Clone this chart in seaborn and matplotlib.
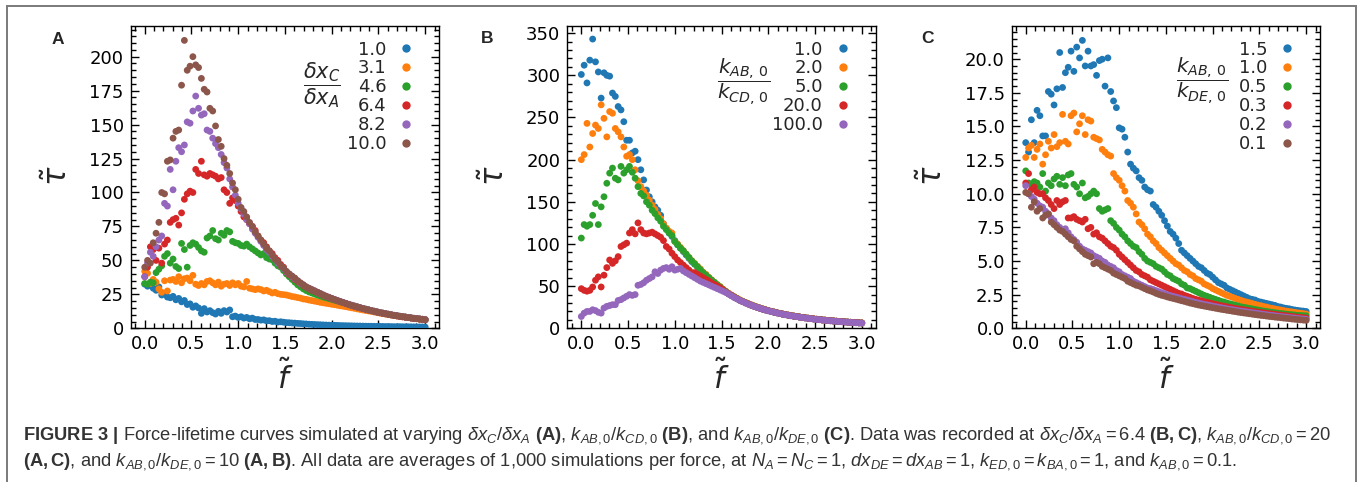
import numpy as np
import pandas as pd
import matplotlib
matplotlib.use("Agg")
import matplotlib.pyplot as plt
from matplotlib import font_manager
from matplotlib.lines import Line2D
from matplotlib.patches import Rectangle
from matplotlib.ticker import MultipleLocator, AutoMinorLocator, FormatStrFormatter
import seaborn as sns

# Dimensionless force grid shared by every simulated curve
force = np.linspace(0.0, 3.0, 100)

# ---- Panel A: varying dx_C / dx_A -------------------------------------------
a_labels = ["1.0", "3.1", "4.6", "6.4", "8.2", "10.0"]
a_10 = [32.5, 31.0, 33.0, 29.5, 28.0, 30.5, 24.5, 25.5, 23.0, 22.5,
        23.5, 21.0, 22.0, 19.5, 20.5, 17.5, 18.0, 15.5, 16.5, 15.0,
        11.0, 14.5, 12.0, 13.0, 11.5, 10.5, 12.5, 11.0, 13.0, 12.0,
        13.5, 8.5, 9.0, 8.0, 8.5, 7.5, 8.0, 7.0, 7.5, 6.5,
        6.5, 6.0, 6.2, 5.5, 5.6, 5.0, 5.2, 4.6, 4.8, 4.5,
        4.2, 4.1, 3.9, 3.8, 3.6, 3.5, 3.3, 3.2, 3.0, 2.9,
        2.8, 2.7, 2.6, 2.5, 2.4, 2.3, 2.25, 2.2, 2.1, 2.0,
        1.95, 1.9, 1.85, 1.8, 1.75, 1.7, 1.65, 1.6, 1.55, 1.5,
        1.5, 1.45, 1.4, 1.4, 1.35, 1.3, 1.3, 1.25, 1.2, 1.2,
        1.2, 1.15, 1.1, 1.1, 1.1, 1.05, 1.0, 1.0, 1.0, 0.95]
a_31 = [42.0, 40.5, 33.0, 36.0, 34.0, 29.0, 26.5, 35.0, 27.5, 35.5,
        36.0, 34.5, 38.0, 33.5, 36.5, 37.0, 35.0, 39.0, 32.5, 31.5,
        33.0, 32.0, 34.5, 35.0, 33.5, 32.0, 34.0, 31.0, 32.5, 33.0,
        31.5, 33.5, 32.0, 33.0, 31.0, 30.5, 34.5, 29.5, 29.0, 28.5,
        29.0, 28.5, 27.5, 28.0, 27.0, 26.0, 26.5, 25.5, 25.0, 24.8,
        24.5, 24.0, 23.4, 23.1, 22.6, 22.2, 21.6, 21.3, 20.8, 20.4,
        20.0, 19.6, 19.1, 18.8, 18.4, 18.1, 17.7, 17.4, 17.0, 16.6,
        16.3, 15.9, 15.5, 15.1, 14.7, 14.3, 13.9, 13.5, 13.1, 12.8,
        12.4, 12.0, 11.6, 11.2, 10.8, 10.5, 10.1, 9.8, 9.4, 9.1,
        8.8, 8.5, 8.2, 7.9, 7.6, 7.3, 7.1, 6.8, 6.6, 6.3]
a_46 = [33.0, 32.5, 34.0, 33.5, 41.0, 43.5, 46.0, 53.0, 55.0, 48.0,
        51.0, 45.5, 44.0, 62.5, 58.0, 45.0, 61.0, 63.0, 62.0, 59.5,
        57.0, 56.0, 66.5, 68.0, 72.0, 66.0, 65.0, 70.0, 68.5, 72.0,
        71.0, 64.0, 63.0, 62.5, 61.0, 60.5, 62.0, 60.0, 58.5, 57.0,
        55.5, 54.0, 55.0, 52.0, 51.0, 50.5, 48.0, 46.0, 45.0, 42.5,
        40.0, 38.0, 36.0, 34.0, 32.0, 30.5, 29.0, 27.8, 26.8, 26.0,
        25.2, 24.5, 23.8, 23.1, 22.5, 21.9, 21.3, 20.7, 20.1, 19.5,
        18.9, 18.3, 17.6, 17.0, 16.4, 15.8, 15.2, 14.7, 14.1, 13.6,
        13.1, 12.6, 12.1, 11.6, 11.2, 10.8, 10.4, 10.0, 9.6, 9.3,
        8.9, 8.6, 8.3, 8.0, 7.7, 7.4, 7.1, 6.9, 6.6, 6.4]
a_64 = [38.0, 45.0, 60.0, 58.0, 50.0, 59.0, 48.0, 62.0, 65.0, 78.0,
        80.0, 81.0, 76.0, 85.0, 95.0, 99.0, 101.0, 100.0, 117.0, 114.0,
        123.0, 113.0, 112.0, 114.0, 113.0, 112.0, 110.0, 111.0, 102.0, 100.0,
        92.0, 96.0, 94.0, 90.0, 86.0, 82.0, 80.0, 77.0, 75.0, 72.0,
        68.0, 65.0, 63.0, 60.0, 57.0, 55.0, 52.0, 50.0, 47.0, 45.0,
        41.5, 39.5, 38.0, 36.0, 34.5, 33.0, 31.5, 30.2, 29.0, 28.0,
        27.3, 26.4, 25.4, 24.4, 23.6, 22.7, 21.9, 21.1, 20.4, 19.6,
        18.9, 18.3, 17.6, 16.9, 16.2, 15.7, 15.1, 14.5, 14.0, 13.5,
        13.0, 12.5, 12.0, 11.5, 11.1, 10.7, 10.3, 9.9, 9.5, 9.2,
        8.8, 8.5, 8.2, 7.9, 7.6, 7.3, 7.1, 6.8, 6.6, 6.3]
a_82 = [38.0, 48.0, 56.0, 53.0, 60.0, 65.0, 68.0, 92.0, 90.0, 117.0,
        102.0, 123.0, 133.0, 130.0, 135.0, 152.0, 151.0, 160.0, 171.0, 162.0,
        157.0, 158.0, 146.0, 145.0, 140.0, 136.0, 133.0, 128.0, 122.0, 118.0,
        110.0, 104.0, 98.0, 92.0, 88.0, 84.0, 80.0, 77.0, 73.0, 70.0,
        67.0, 64.0, 61.0, 58.0, 56.0, 53.0, 51.0, 48.0, 46.0, 44.0,
        41.5, 40.0, 38.0, 36.5, 35.0, 33.0, 32.0, 30.5, 29.5, 28.5,
        27.6, 26.6, 25.6, 24.6, 23.7, 22.9, 22.1, 21.3, 20.5, 19.8,
        19.1, 18.4, 17.7, 17.0, 16.4, 15.8, 15.2, 14.6, 14.1, 13.6,
        13.1, 12.6, 12.1, 11.6, 11.2, 10.8, 10.4, 10.0, 9.6, 9.3,
        8.9, 8.6, 8.3, 8.0, 7.7, 7.4, 7.2, 6.9, 6.7, 6.4]
a_100 = [45.0, 50.0, 48.0, 63.0, 70.0, 78.0, 100.0, 99.0, 123.0, 124.0,
         140.0, 145.0, 146.0, 179.0, 212.0, 190.0, 193.0, 200.0, 194.0, 192.0,
         184.0, 176.0, 174.0, 162.0, 160.0, 149.0, 139.0, 134.0, 125.0, 120.0,
         114.0, 107.0, 102.0, 95.0, 89.0, 86.0, 82.0, 78.0, 75.0, 71.0,
         68.0, 65.0, 62.0, 59.0, 57.0, 54.0, 51.0, 49.0, 46.0, 44.5,
         42.0, 40.0, 38.5, 37.0, 35.0, 33.5, 32.0, 30.5, 29.5, 28.5,
         27.5, 26.5, 25.5, 24.5, 23.5, 22.8, 22.0, 21.2, 20.4, 19.7,
         19.0, 18.3, 17.6, 16.9, 16.3, 15.7, 15.1, 14.5, 14.0, 13.5,
         13.0, 12.5, 12.0, 11.5, 11.1, 10.7, 10.3, 9.9, 9.5, 9.2,
         8.8, 8.5, 8.2, 7.9, 7.6, 7.3, 7.1, 6.8, 6.6, 6.3]

# ---- Panel B: varying k_AB,0 / k_CD,0 ---------------------------------------
b_labels = ["1.0", "2.0", "5.0", "20.0", "100.0"]
b_1 = [301, 312, 291, 318, 343, 316, 304, 273, 303, 300,
       299, 279, 275, 263, 259, 245, 223, 223, 208, 210,
       200, 188, 176, 164, 156, 150, 144, 140, 134, 124,
       118, 113, 109, 104, 99, 95, 91, 87, 83, 79,
       76, 73, 69.5, 66, 63, 60, 57, 54, 51.5, 49,
       46, 43.5, 41, 39, 37, 35, 33.3, 31.7, 30.2, 28.8,
       27.5, 26.2, 25.0, 23.9, 22.8, 21.8, 20.9, 20.0, 19.2, 18.4,
       17.6, 16.9, 16.2, 15.6, 15.0, 14.4, 13.9, 13.4, 12.9, 12.4,
       12.0, 11.5, 11.1, 10.7, 10.3, 10.0, 9.6, 9.3, 9.0, 8.7,
       8.4, 8.1, 7.9, 7.6, 7.4, 7.1, 6.9, 6.7, 6.5, 6.3]
b_2 = [200, 206, 243, 215, 231, 241, 237, 265, 249, 227,
       257, 255, 237, 233, 227, 215, 204, 206, 200, 188,
       175, 168, 163, 158, 152, 146, 141, 135, 130, 124,
       119, 115, 113, 103, 100, 96, 92, 88, 84, 80,
       77, 73.5, 70.5, 66.5, 64, 60.5, 57.5, 54.5, 52, 49.5,
       46.5, 44, 41.5, 39.5, 37.5, 35.5, 33.7, 32, 30.5, 29.1,
       27.8, 26.5, 25.3, 24.2, 23.1, 22.1, 21.1, 20.2, 19.4, 18.6,
       17.8, 17.1, 16.4, 15.8, 15.2, 14.6, 14.1, 13.5, 13.0, 12.6,
       12.1, 11.7, 11.3, 10.8, 10.5, 10.1, 9.8, 9.4, 9.1, 8.8,
       8.5, 8.2, 8.0, 7.7, 7.5, 7.2, 7.0, 6.8, 6.6, 6.4]
b_5 = [107, 123, 121, 123, 134, 148, 123, 144, 156, 172,
       184, 190, 178, 176, 192, 184, 188, 192, 185, 178,
       168, 160, 157, 150, 146, 140, 136, 131, 127, 121,
       117, 113, 110, 103, 99, 95, 92, 88, 84, 80,
       76.5, 73, 69.5, 66, 63, 60, 57, 54.5, 51.5, 49,
       46, 43.5, 41, 39, 37, 35.2, 33.3, 31.8, 30.2, 28.9,
       27.5, 26.3, 25.0, 24.0, 22.8, 21.9, 20.9, 20.1, 19.2, 18.5,
       17.6, 16.9, 16.3, 15.6, 15.0, 14.5, 13.9, 13.4, 12.9, 12.5,
       12.0, 11.6, 11.1, 10.7, 10.4, 10.0, 9.7, 9.3, 9.0, 8.7,
       8.4, 8.2, 7.9, 7.7, 7.4, 7.2, 6.9, 6.7, 6.5, 6.3]
b_20 = [47, 45, 44, 45, 49, 57, 61, 49, 63, 72,
        81, 77, 80, 85, 97, 99, 101, 113, 117, 112,
        125, 117, 113, 112, 113, 114, 112, 110, 108, 104,
        97, 94, 89, 85, 81, 78, 75, 72, 69, 66,
        66, 64, 62, 60, 58, 56, 54, 52, 50, 48,
        45.5, 43, 41, 39, 37, 35, 33.3, 31.6, 30.2, 28.8,
        27.4, 26.2, 25.0, 23.8, 22.8, 21.8, 20.9, 20.0, 19.2, 18.4,
        17.6, 16.9, 16.2, 15.6, 15.0, 14.4, 13.9, 13.4, 12.9, 12.4,
        11.9, 11.5, 11.1, 10.7, 10.3, 9.9, 9.6, 9.3, 9.0, 8.7,
        8.4, 8.1, 7.9, 7.6, 7.4, 7.1, 6.9, 6.7, 6.5, 6.3]
b_100 = [14, 18, 20, 20, 22, 21, 19, 18, 24, 26,
         27, 28, 28, 33, 34, 36, 38, 40, 39, 40,
         51, 52, 54, 57, 59, 61, 67, 65, 69, 71,
         72, 70, 73, 69, 70, 71, 68, 66, 64, 62,
         60, 58, 56, 54.5, 53, 51.5, 50, 48.5, 47, 45.5,
         44, 42.5, 40.5, 38.5, 36.5, 34.8, 33.0, 31.5, 30.0, 28.6,
         27.3, 26.0, 24.9, 23.8, 22.7, 21.7, 20.8, 19.9, 19.1, 18.3,
         17.5, 16.8, 16.1, 15.5, 14.9, 14.3, 13.8, 13.3, 12.8, 12.3,
         11.9, 11.4, 11.0, 10.6, 10.2, 9.9, 9.5, 9.2, 8.9, 8.6,
         8.3, 8.0, 7.8, 7.5, 7.3, 7.0, 6.8, 6.6, 6.4, 6.2]

# ---- Panel C: varying k_AB,0 / k_DE,0 ---------------------------------------
c_labels = ["1.5", "1.0", "0.5", "0.3", "0.2", "0.1"]
c_15 = [13.8, 13.1, 15.5, 13.8, 16.2, 15.8, 14.3, 14.3, 17.6, 17.4,
        16.6, 17.8, 20.5, 17.9, 19.0, 19.4, 20.6, 19.1, 20.9, 20.1,
        21.4, 19.5, 20.6, 19.5, 19.6, 18.8, 19.9, 20.0, 18.0, 20.1,
        17.6, 16.9, 16.4, 14.9, 14.8, 14.2, 13.1, 12.2, 11.9, 11.7,
        11.2, 11.0, 10.5, 10.3, 10.2, 9.2, 9.0, 8.7, 8.4, 8.0,
        7.6, 7.2, 7.0, 6.7, 6.3, 5.8, 5.6, 5.4, 5.2, 5.0,
        4.8, 4.6, 4.5, 4.3, 4.1, 4.0, 3.8, 3.6, 3.4, 3.3,
        3.2, 3.0, 2.9, 2.8, 2.7, 2.6, 2.5, 2.4, 2.3, 2.2,
        2.15, 2.1, 2.0, 1.95, 1.9, 1.85, 1.8, 1.75, 1.7, 1.62,
        1.58, 1.52, 1.48, 1.45, 1.4, 1.36, 1.33, 1.3, 1.28, 1.25]
c_10 = [12.7, 13.4, 13.6, 12.7, 13.3, 13.7, 12.2, 12.9, 13.9, 13.4,
        14.4, 13.5, 13.8, 15.9, 13.9, 13.7, 15.8, 16.0, 14.6, 15.2,
        15.8, 14.4, 15.5, 15.4, 14.2, 14.1, 14.0, 13.3, 13.1, 12.9,
        12.8, 11.5, 11.2, 11.0, 10.6, 10.2, 9.5, 9.3, 9.0, 8.5,
        7.9, 7.7, 7.4, 7.0, 6.8, 6.5, 6.3, 6.0, 5.8, 5.6,
        5.4, 5.2, 5.0, 4.8, 4.7, 4.5, 4.3, 4.2, 4.0, 3.9,
        3.7, 3.6, 3.5, 3.3, 3.2, 3.1, 2.95, 2.85, 2.75, 2.65,
        2.55, 2.45, 2.38, 2.3, 2.22, 2.15, 2.08, 2.0, 1.95, 1.9,
        1.84, 1.78, 1.72, 1.68, 1.62, 1.58, 1.52, 1.48, 1.44, 1.4,
        1.36, 1.32, 1.28, 1.25, 1.22, 1.18, 1.15, 1.12, 1.09, 1.06]
c_05 = [11.7, 10.8, 10.7, 10.9, 10.8, 10.5, 11.5, 10.2, 10.8, 10.6,
        11.1, 11.3, 10.7, 11.2, 10.6, 11.4, 11.5, 10.7, 10.5, 10.0,
        10.8, 9.7, 9.8, 10.0, 10.2, 10.0, 8.9, 8.7, 8.8, 8.9,
        8.0, 7.8, 7.5, 7.3, 7.0, 6.8, 6.5, 6.3, 6.1, 6.0,
        5.7, 5.5, 5.2, 5.0, 4.9, 4.8, 4.6, 4.5, 4.4, 4.2,
        4.0, 3.9, 3.7, 3.6, 3.5, 3.3, 3.2, 3.0, 2.95, 2.85,
        2.75, 2.65, 2.55, 2.45, 2.38, 2.3, 2.22, 2.15, 2.08, 2.0,
        1.95, 1.88, 1.82, 1.77, 1.72, 1.66, 1.6, 1.56, 1.52, 1.48,
        1.44, 1.4, 1.36, 1.32, 1.28, 1.25, 1.22, 1.19, 1.16, 1.13,
        1.1, 1.08, 1.05, 1.03, 1.01, 0.99, 0.97, 0.95, 0.94, 0.93]
c_03 = [10.8, 11.5, 10.3, 10.5, 10.1, 10.0, 10.0, 9.7, 9.5, 9.2,
        8.9, 9.5, 9.2, 9.4, 9.5, 8.2, 8.2, 8.3, 8.1, 8.0,
        7.9, 8.1, 7.4, 7.5, 7.0, 7.1, 6.8, 6.7, 6.5, 6.3,
        6.1, 6.0, 5.8, 5.5, 5.3, 5.1, 4.9, 4.7, 4.5, 4.3,
        4.2, 4.0, 3.9, 3.8, 3.6, 3.5, 3.4, 3.3, 3.2, 3.1,
        3.0, 2.9, 2.8, 2.7, 2.6, 2.55, 2.45, 2.38, 2.3, 2.22,
        2.15, 2.1, 2.04, 1.98, 1.93, 1.88, 1.83, 1.78, 1.73, 1.68,
        1.64, 1.6, 1.56, 1.52, 1.48, 1.44, 1.41, 1.37, 1.34, 1.3,
        1.27, 1.24, 1.21, 1.18, 1.15, 1.12, 1.09, 1.06, 1.04, 1.01,
        0.98, 0.96, 0.93, 0.91, 0.88, 0.86, 0.83, 0.81, 0.79, 0.77]
c_02 = [10.6, 10.0, 9.8, 9.6, 9.3, 9.1, 9.0, 8.7, 8.5, 8.2,
        8.0, 7.7, 7.5, 7.3, 7.4, 7.1, 6.8, 6.6, 6.4, 6.1,
        5.9, 5.8, 5.7, 5.6, 5.4, 5.3, 5.2, 5.0, 4.9, 4.7,
        4.6, 4.5, 4.3, 4.2, 4.0, 3.9, 3.8, 3.7, 3.5, 3.4,
        3.3, 3.2, 3.1, 3.0, 2.95, 2.88, 2.8, 2.72, 2.65, 2.58,
        2.5, 2.44, 2.38, 2.32, 2.26, 2.2, 2.15, 2.1, 2.04, 1.98,
        1.93, 1.88, 1.83, 1.78, 1.74, 1.7, 1.65, 1.61, 1.57, 1.53,
        1.49, 1.45, 1.42, 1.38, 1.35, 1.31, 1.28, 1.25, 1.22, 1.19,
        1.16, 1.13, 1.1, 1.07, 1.04, 1.01, 0.98, 0.96, 0.93, 0.9,
        0.88, 0.85, 0.83, 0.8, 0.78, 0.76, 0.73, 0.71, 0.69, 0.67]
c_01 = [10.1, 10.0, 9.0, 9.4, 8.7, 8.9, 8.2, 8.4, 8.5, 7.9,
        7.7, 7.5, 7.3, 7.2, 7.0, 6.8, 6.6, 6.5, 6.1, 5.9,
        5.7, 5.5, 5.4, 5.3, 4.8, 4.9, 4.8, 4.6, 4.5, 4.4,
        4.3, 4.1, 4.0, 3.9, 3.8, 3.7, 3.5, 3.4, 3.3, 3.2,
        3.15, 3.05, 2.95, 2.85, 2.78, 2.7, 2.6, 2.52, 2.45, 2.4,
        2.33, 2.27, 2.22, 2.17, 2.11, 2.05, 2.0, 1.94, 1.88, 1.83,
        1.78, 1.73, 1.69, 1.65, 1.61, 1.57, 1.53, 1.49, 1.45, 1.41,
        1.38, 1.34, 1.31, 1.27, 1.24, 1.2, 1.17, 1.14, 1.11, 1.08,
        1.05, 1.02, 0.99, 0.96, 0.94, 0.91, 0.88, 0.86, 0.83, 0.81,
        0.79, 0.76, 0.74, 0.72, 0.69, 0.67, 0.65, 0.63, 0.61, 0.59]

# ---- styling -----------------------------------------------------------------
sns.set_style("ticks")
plt.rcParams["font.family"] = ["DejaVu Sans"]
plt.rcParams["mathtext.fontset"] = "dejavusans"


def font_available(name):
    try:
        font_manager.findfont(font_manager.FontProperties(family=name),
                              fallback_to_default=False)
        return True
    except ValueError:
        return False


CAPTION_FONT = ("Liberation Sans Narrow" if font_available("Liberation Sans Narrow")
                else "Liberation Sans")
plt.rcParams["mathtext.rm"] = CAPTION_FONT
plt.rcParams["mathtext.sf"] = CAPTION_FONT
plt.rcParams["mathtext.it"] = CAPTION_FONT + ":italic"
plt.rcParams["mathtext.bf"] = CAPTION_FONT + ":bold"

colors = sns.color_palette("tab10", 6)

W, H = 1360, 482
fig = plt.figure(figsize=(W / 100, H / 100), dpi=100)

AX_TOP, AX_BOTTOM = 26.0, 328.3

panels = [
    dict(letter="A", left=130.7, labels=a_labels,
         values=[a_10, a_31, a_46, a_64, a_82, a_100],
         frac=r"$\dfrac{\delta x_C}{\delta x_A}$", frac_xy=(0.62, 0.805), frac_size=15,
         ytop=222.6, ystep=25, yfmt="%d", ylabel_x=-0.236, letter_xy=(57.5, 39.5)),
    dict(letter="B", left=567.3, labels=b_labels,
         values=[b_1, b_2, b_5, b_20, b_100],
         frac=r"$\dfrac{k_{AB,\,0}}{k_{CD,\,0}}$", frac_xy=(0.573, 0.815), frac_size=14.5,
         ytop=358.5, ystep=50, yfmt="%d", ylabel_x=-0.234, letter_xy=(487, 38.5)),
    dict(letter="C", left=1011.7, labels=c_labels,
         values=[c_15, c_10, c_05, c_03, c_02, c_01],
         frac=r"$\dfrac{k_{AB,\,0}}{k_{DE,\,0}}$", frac_xy=(0.617, 0.818), frac_size=14.5,
         ytop=22.47, ystep=2.5, yfmt="%.1f", ylabel_x=-0.255, letter_xy=(927, 38.5)),
]

AX_W = 308.5
for p in panels:
    ax = fig.add_axes([p["left"] / W, (H - AX_BOTTOM) / H, AX_W / W,
                       (AX_BOTTOM - AX_TOP) / H])
    n = len(p["labels"])
    df = pd.DataFrame({
        "f": np.tile(force, n),
        "tau": np.concatenate([np.asarray(v, dtype=float) for v in p["values"]]),
        "ratio": np.repeat(p["labels"], len(force)),
    })
    pal = colors[:n]
    sns.scatterplot(data=df, x="f", y="tau", hue="ratio", hue_order=p["labels"],
                    palette=pal, s=24, linewidth=0, legend=False, ax=ax, zorder=3)

    ax.set_xlim(-0.15, 3.15)
    ax.set_ylim(0, p["ytop"])
    ax.xaxis.set_major_locator(MultipleLocator(0.5))
    ax.xaxis.set_major_formatter(FormatStrFormatter("%.1f"))
    ax.xaxis.set_minor_locator(AutoMinorLocator(5))
    ax.yaxis.set_major_locator(MultipleLocator(p["ystep"]))
    ax.yaxis.set_major_formatter(FormatStrFormatter(p["yfmt"]))
    ax.yaxis.set_minor_locator(AutoMinorLocator(5))
    ax.tick_params(which="both", direction="in", top=True, right=True,
                   width=1.0, color="black")
    ax.tick_params(which="major", length=6, labelsize=13, pad=5, labelcolor="black")
    ax.tick_params(which="minor", length=3.5)
    for sp in ax.spines.values():
        sp.set_linewidth(1.0)
        sp.set_color("black")

    ax.set_xlabel(r"$\tilde{f}$", fontsize=22, va="center")
    ax.xaxis.set_label_coords(0.5, -0.161)
    ax.set_ylabel(r"$\tilde{\tau}$", fontsize=22, va="center")
    ax.yaxis.set_label_coords(p["ylabel_x"], 0.504)

    handles = [Line2D([0], [0], marker="o", linestyle="", color=c,
                      markersize=6, markeredgewidth=0) for c in pal]
    ax.legend(handles, p["labels"], loc="upper right", bbox_to_anchor=(0.922, 0.952),
              markerfirst=False, frameon=False, fontsize=13, handlelength=1.0,
              handletextpad=0.6, labelspacing=0.05, borderpad=0, borderaxespad=0)
    ax.text(*p["frac_xy"], p["frac"], transform=ax.transAxes, ha="center",
            va="center", fontsize=p["frac_size"])

    fig.text(p["letter_xy"][0] / W, 1 - p["letter_xy"][1] / H, p["letter"],
             ha="center", va="center", fontsize=12.5, fontweight="bold",
             family=["Liberation Sans", "DejaVu Sans"])

# outer frame around figure and caption
fig.add_artist(Rectangle((7 / W, -0.05), (1356 - 7) / W, (1 - 6 / H) + 0.05,
                         transform=fig.transFigure, fill=False,
                         edgecolor="#7a7a7a", linewidth=1.4, clip_on=False))

line1 = (r"$\mathbf{FIGURE\ 3\ |}$ Force-lifetime curves simulated at varying "
         r"$\delta x_C/\delta x_A$ $\mathbf{(A)}$, $k_{AB,0}/k_{CD,0}$ $\mathbf{(B)}$, "
         r"and $k_{AB,0}/k_{DE,0}$ $\mathbf{(C)}$. Data was recorded at "
         r"$\delta x_C/\delta x_A = 6.4$ $\mathbf{(B,C)}$, $k_{AB,0}/k_{CD,0} = 20$")
line2 = (r"$\mathbf{(A,C)}$, and $k_{AB,0}/k_{DE,0} = 10$ $\mathbf{(A,B)}$. All data are "
         r"averages of 1,000 simulations per force, at $N_A = N_C = 1$, "
         r"$dx_{DE} = dx_{AB} = 1$, $k_{ED,0} = k_{BA,0} = 1$, and $k_{AB,0} = 0.1$.")

cap_kw = dict(ha="left", va="baseline", color="#333333", family=CAPTION_FONT,
              math_fontfamily="custom", fontsize=12)
t1 = fig.text(23 / W, 1 - 440 / H, line1, **cap_kw)
t2 = fig.text(23 / W, 1 - 466 / H, line2, **cap_kw)

# fit caption width to the frame
fig.canvas.draw()
renderer = fig.canvas.get_renderer()
w1 = t1.get_window_extent(renderer).width
scale = 1307.0 / w1
for t in (t1, t2):
    t.set_fontsize(12 * scale)

fig.savefig("out.png", dpi=100)
